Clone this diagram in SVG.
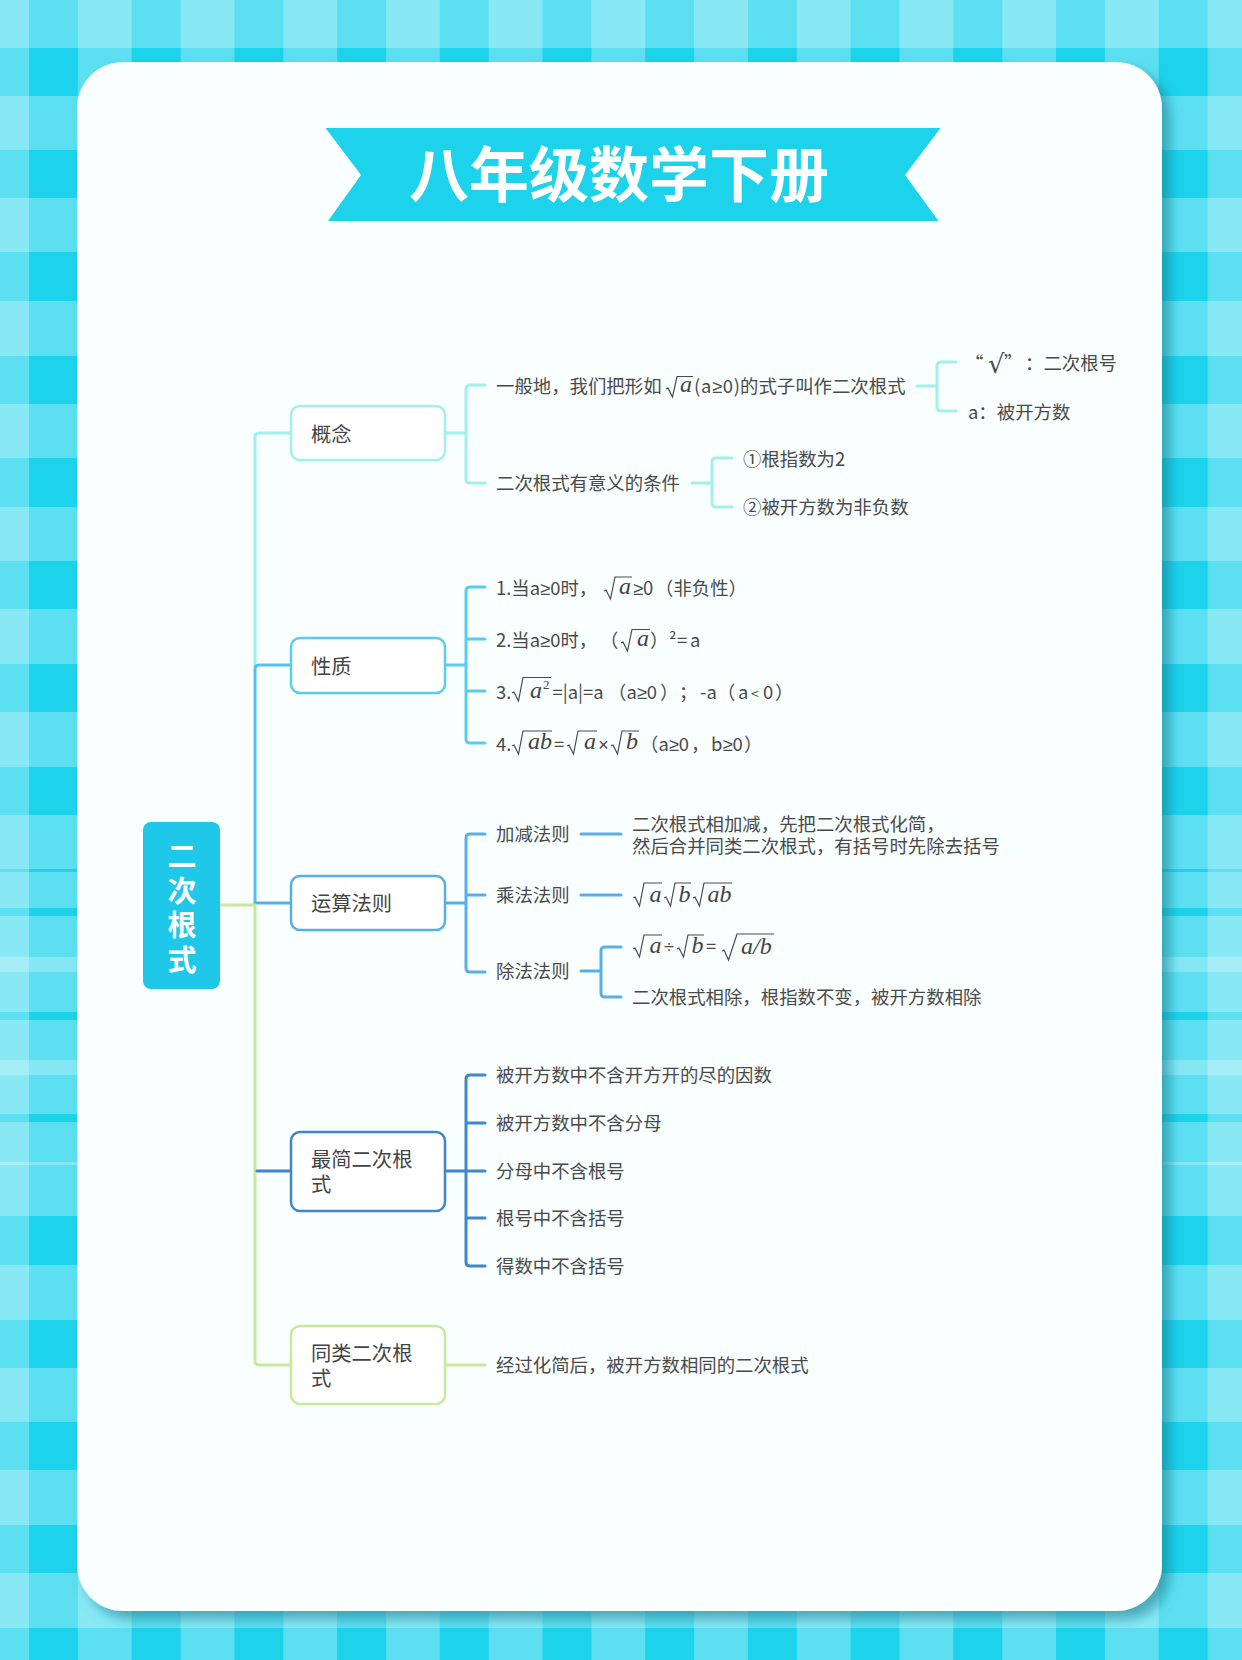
<svg xmlns="http://www.w3.org/2000/svg" width="1242" height="1660" viewBox="0 0 1242 1660">
<style>
text{font-family:"Noto Sans CJK SC","Noto Sans",sans-serif;fill:#4a4a4a}
.t{font-size:18.4px}
.n{font-size:20.3px;fill:#444}
.m{font-family:"Liberation Serif",serif;font-style:italic;font-size:24px;fill:#444}
.s{font-family:"Liberation Serif",serif;font-size:13px;fill:#444}
.g{font-family:"Liberation Sans",sans-serif}
.rad{fill:none;stroke:#4a4a4a;stroke-width:1.2}
.w{fill:none;stroke-width:3;stroke-linecap:round}
.b{fill:#fff;stroke-width:2.5}
.white{fill:#fff}
.c1{stroke:#a2f0ec}.c2{stroke:#58cdf0}.c2t{stroke:#55c0ef}.c3{stroke:#58aee9}.c4{stroke:#3f87c9}.c5{stroke:#c6e99c}
</style>
<defs>
<pattern id="colM" patternUnits="userSpaceOnUse" x="29" y="0" width="102.7" height="20"><rect width="49" height="20" fill="#5cdff1"/></pattern>
<pattern id="colD" patternUnits="userSpaceOnUse" x="29" y="0" width="102.7" height="20"><rect width="49" height="20" fill="#1dd2eb"/></pattern>
<clipPath id="rows">
<rect x="0" y="48" width="1242" height="48"/><rect x="0" y="150" width="1242" height="48"/><rect x="0" y="252" width="1242" height="49"/><rect x="0" y="356" width="1242" height="48"/><rect x="0" y="458" width="1242" height="49"/><rect x="0" y="561" width="1242" height="48"/><rect x="0" y="664" width="1242" height="48"/><rect x="0" y="767" width="1242" height="48"/><rect x="0" y="869" width="1242" height="3"/><rect x="0" y="908" width="1242" height="8"/><rect x="0" y="1012" width="1242" height="8"/><rect x="0" y="1114" width="1242" height="8"/><rect x="0" y="1216" width="1242" height="49"/><rect x="0" y="1320" width="1242" height="48"/><rect x="0" y="1422" width="1242" height="48"/><rect x="0" y="1525" width="1242" height="48"/><rect x="0" y="1628" width="1242" height="32"/>
</clipPath>
<filter id="sh" x="-5%" y="-5%" width="112%" height="112%"><feDropShadow dx="8" dy="8" stdDeviation="6" flood-color="#0b7488" flood-opacity=".55"/></filter>
</defs>

<g id="background">
<rect width="1242" height="1660" fill="#88e9f5"/>
<rect width="1242" height="1660" fill="url(#colM)"/>
<g clip-path="url(#rows)"><rect width="1242" height="1660" fill="#5cdff1"/><rect width="1242" height="1660" fill="url(#colD)"/></g>
<g fill="#fff" opacity=".25"><rect y="957" width="1242" height="15"/><rect y="1060" width="1242" height="15"/><rect y="1162" width="1242" height="3"/></g>
</g>

<rect id="card" x="77" y="62" width="1085" height="1549" rx="46" fill="#f9fefe" filter="url(#sh)"/>

<g id="banner">
<polygon points="325.500,128 940.500,128 905,175 938.500,221 328,221 361,175" fill="#1dd2eb"/>
<text class="white" x="619" y="197" text-anchor="middle" font-size="60" font-weight="700">八年级数学下册</text>
</g>

<g id="connectors">
<path class="w c1" d="M290 433H259Q255 433 255 437V665"/>
<path class="w c2t" d="M290 665H259Q255 665 255 669V903"/>
<path class="w c3" d="M290 903H255"/>
<path class="w c5" d="M220 905H255M255 905V1361Q255 1365 259 1365H290"/>
<path class="w c4" d="M257 1171H290"/>
<path class="w c1" d="M445 433H466M485 385H470Q466 385 466 389V479Q466 483 470 483H485"/>
<path class="w c1" d="M917 386H937M956 362H941Q937 362 937 366V407Q937 411 941 411H956"/>
<path class="w c1" d="M692 483H712M732 458H716Q712 458 712 462V503Q712 507 716 507H732"/>
<path class="w c2" d="M445 665H466M485 587H470Q466 587 466 591V739Q466 743 470 743H485M466 639H485M466 691H485"/>
<path class="w c3" d="M445 903H466M485 834H470Q466 834 466 838V968Q466 972 470 972H485M466 895H485"/>
<path class="w c3" d="M581 834H621M581 895H621M581 971H601M621 947H605Q601 947 601 951V993Q601 997 605 997H621"/>
<path class="w c4" d="M445 1171H466M485 1075H470Q466 1075 466 1079V1262Q466 1266 470 1266H485M466 1123H485M466 1171H485M466 1218H485"/>
<path class="w c5" d="M445 1365H485"/>
</g>

<g id="root">
<rect x="143" y="822" width="77" height="167" rx="8" fill="#1fc8e8"/>
<text class="white" font-size="29" font-weight="700" text-anchor="middle"><tspan x="182" y="866.500">二</tspan><tspan x="182" y="901.500">次</tspan><tspan x="182" y="935.500">根</tspan><tspan x="182" y="970.500">式</tspan></text>
</g>

<g id="node-gainian">
<rect class="b c1" x="291" y="406" width="154" height="54" rx="9"/>
<text class="n" x="311" y="441.500">概念</text>
</g>
<g id="gainian-1">
<text class="t" x="496" y="393">一般地，我们把形如</text>
<path class="rad" d="M666 389l2 -1 4.500 9L677 376.500H693"/>
<text class="m" x="680" y="392">a</text>
<text class="t" x="694" y="393"><tspan letter-spacing=".7">(a<tspan class="g">≥</tspan>0)</tspan><tspan x="740">的式子叫作二次根式</tspan></text>
</g>
<g id="gainian-1-1"><text class="t" x="965" y="369.500">“<tspan x="988" y="373" font-size="26" style="font-family:'DejaVu Sans',sans-serif">√</tspan><tspan x="1004" y="369.500">”</tspan><tspan x="1025">：二次根号</tspan></text></g>
<g id="gainian-1-2"><text class="t" x="968" y="418.500">a：被开方数</text></g>
<g id="gainian-2"><text class="t" x="496" y="489.500">二次根式有意义的条件</text></g>
<g id="gainian-2-1"><text class="t" x="743" y="465.500">①根指数为2</text></g>
<g id="gainian-2-2"><text class="t" x="743" y="513.500">②被开方数为非负数</text></g>

<g id="node-xingzhi">
<rect class="b c2" x="291" y="638" width="154" height="55" rx="9"/>
<text class="n" x="311" y="673.500">性质</text>
</g>
<g id="xingzhi-1">
<text class="t" x="496" y="594.500">1.当a<tspan class="g">≥</tspan>0时，</text>
<path class="rad" d="M604 591l2 -1 4.500 9L615 577H632"/>
<text class="m" x="619" y="594">a</text>
<text class="t" x="633" y="594.500"><tspan class="g">≥</tspan>0<tspan x="655">（非负性）</tspan></text>
</g>
<g id="xingzhi-2">
<text class="t" x="496" y="646.500">2.当a<tspan class="g">≥</tspan>0时，<tspan x="600">（</tspan></text>
<path class="rad" d="M621 643l2 -1 4.500 9L632 629.500H650"/>
<text class="m" x="637" y="646">a</text>
<text class="t" x="650" y="646.500">）<tspan x="669">²</tspan><tspan x="677">=</tspan><tspan x="690">a</tspan></text>
</g>
<g id="xingzhi-3">
<text class="t" x="496" y="698.500">3.</text>
<path class="rad" d="M512 693l2 -1 4.500 9L523 677.500H551"/>
<text class="m" x="530" y="698">a</text><text class="s" x="543" y="689">2</text>
<text class="t" x="552.500" y="698.500">=|a|=a<tspan x="608">（a</tspan><tspan class="g">≥</tspan>0<tspan x="660">）</tspan><tspan x="679">；</tspan><tspan x="700">-a</tspan><tspan x="717">（</tspan><tspan x="738">a</tspan><tspan x="751" font-size="14">&lt;</tspan><tspan x="763">0</tspan><tspan x="775">）</tspan></text>
</g>
<g id="xingzhi-4">
<text class="t" x="496" y="750.500">4.</text>
<path class="rad" d="M512 746l2 -1 4.500 9L523 731H552"/>
<text class="m" x="528" y="749">ab</text>
<text class="t" x="554" y="750.500">=</text>
<path class="rad" d="M567 746l2 -1 4.500 9L578 731H597"/>
<text class="m" x="584" y="749">a</text>
<text class="t g" x="598" y="750.500">×</text>
<path class="rad" d="M611 746l2 -1 4.500 9L622 731H639"/>
<text class="m" x="626" y="749">b</text>
<text class="t" x="640" y="750.500">（a<tspan class="g">≥</tspan>0<tspan x="691">，</tspan><tspan x="711">b</tspan><tspan class="g">≥</tspan>0<tspan x="744">）</tspan></text>
</g>

<g id="node-yunsuan">
<rect class="b c3" x="291" y="876" width="154" height="54" rx="9"/>
<text class="n" x="311" y="911">运算法则</text>
</g>
<g id="yunsuan-1"><text class="t" x="496" y="840.500">加减法则</text></g>
<g id="yunsuan-1-1">
<text class="t" x="632" y="830.500">二次根式相加减，先把二次根式化简，</text>
<text class="t" x="632" y="853">然后合并同类二次根式，有括号时先除去括号</text>
</g>
<g id="yunsuan-2"><text class="t" x="496" y="901.500">乘法法则</text></g>
<g id="yunsuan-2-1">
<path class="rad" d="M633 898l2 -1 4.500 9L644 883H662"/>
<text class="m" x="649.500" y="902">a</text>
<path class="rad" d="M664 898l2 -1 4.500 9L675 883H691"/>
<text class="m" x="678.500" y="902">b</text>
<path class="rad" d="M693 898l2 -1 4.500 9L704 883H732"/>
<text class="m" x="707.500" y="902">ab</text>
</g>
<g id="yunsuan-3"><text class="t" x="496" y="978">除法法则</text></g>
<g id="yunsuan-3-1">
<path class="rad" d="M633 949l2 -1 4.500 9L644 935H662"/>
<text class="m" x="649.500" y="953">a</text>
<text class="t g" x="664" y="953">÷</text>
<path class="rad" d="M677 949l2 -1 4.500 9L688 935H704"/>
<text class="m" x="691.500" y="953">b</text>
<text class="t" x="706" y="953">=</text>
<path class="rad" d="M722 951l2 -1 4.500 10L737 934H774"/>
<text class="m" x="741" y="954">a/b</text>
</g>
<g id="yunsuan-3-2"><text class="t" x="632" y="1003.500">二次根式相除，根指数不变，被开方数相除</text></g>

<g id="node-zuijian">
<rect class="b c4" x="291" y="1132" width="154" height="79" rx="9"/>
<text class="n" x="311" y="1167">最简二次根</text>
<text class="n" x="311" y="1192">式</text>
</g>
<g id="zuijian-1"><text class="t" x="496" y="1081.500">被开方数中不含开方开的尽的因数</text></g>
<g id="zuijian-2"><text class="t" x="496" y="1129.500">被开方数中不含分母</text></g>
<g id="zuijian-3"><text class="t" x="496" y="1177.500">分母中不含根号</text></g>
<g id="zuijian-4"><text class="t" x="496" y="1224.500">根号中不含括号</text></g>
<g id="zuijian-5"><text class="t" x="496" y="1272.500">得数中不含括号</text></g>

<g id="node-tonglei">
<rect class="b c5" x="291" y="1326" width="154" height="78" rx="9"/>
<text class="n" x="311" y="1361">同类二次根</text>
<text class="n" x="311" y="1386">式</text>
</g>
<g id="tonglei-1"><text class="t" x="496" y="1371.500">经过化简后，被开方数相同的二次根式</text></g>
</svg>
